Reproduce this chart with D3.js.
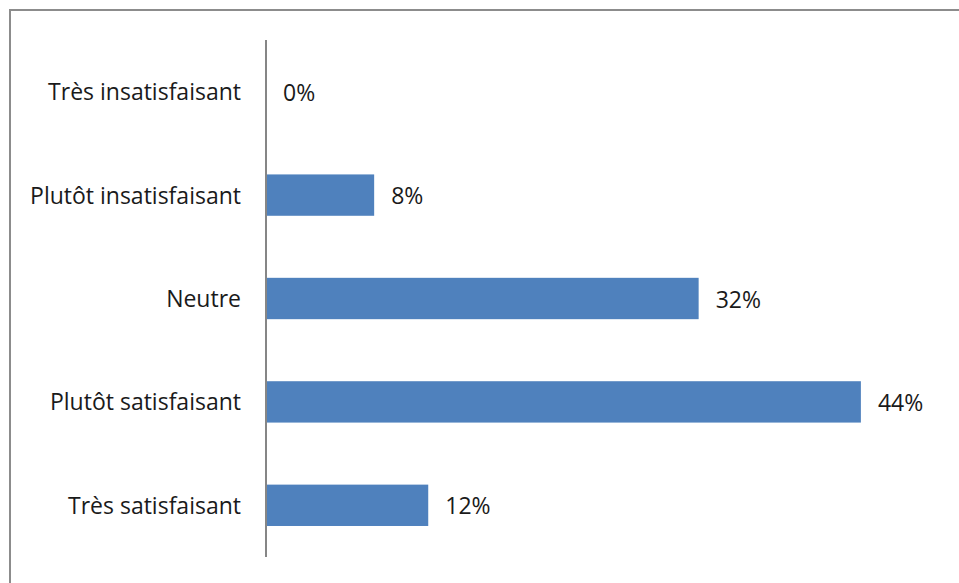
<!DOCTYPE html>
<html>
<head>
<meta charset="utf-8">
<script src="https://cdn.jsdelivr.net/npm/d3@7"></script>
<style>
  html, body { margin: 0; padding: 0; background: #fff; }
  svg { display: block; }
  text { font-family: "Open Sans", "Noto Sans", sans-serif; fill: #1a1a1a; }
</style>
</head>
<body>
<svg id="chart" width="959" height="583"></svg>
<script>
// Satisfaction survey results (share of respondents)
const categories = [
  "Très insatisfaisant",
  "Plutôt insatisfaisant",
  "Neutre",
  "Plutôt satisfaisant",
  "Très satisfaisant"
];
const values = [0.00, 0.08, 0.32, 0.44, 0.12];

const svg = d3.select("#chart");
const W = 959, H = 583;
const fontSize = 23;

// Chart frame
svg.append("rect")
  .attr("x", 10).attr("y", 10)
  .attr("width", W + 10).attr("height", H + 10)
  .attr("fill", "#fff")
  .attr("stroke", "#8c8c8c")
  .attr("stroke-width", 2);

const x = d3.scaleLinear().domain([0, 0.5]).range([266, 942]);
const y = d3.scaleBand()
  .domain(categories)
  .range([40, 557])
  .paddingInner(0.6)
  .paddingOuter(0.3);

const data = categories.map((c, i) => ({ cat: c, v: values[i] }));

// Bars
svg.append("g").selectAll("rect")
  .data(data)
  .join("rect")
  .attr("x", x(0))
  .attr("y", d => y(d.cat))
  .attr("width", d => x(d.v) - x(0))
  .attr("height", y.bandwidth())
  .attr("fill", "#4f81bd");

// Value labels
const fmt = d3.format(".0%");
svg.append("g").selectAll("text")
  .data(data)
  .join("text")
  .attr("x", d => x(d.v) + 17)
  .attr("y", d => y(d.cat) + y.bandwidth() / 2 + 1)
  .attr("dy", "0.35em")
  .attr("font-size", fontSize)
  .text(d => fmt(d.v));

// Category axis
const axis = svg.append("g")
  .attr("transform", `translate(${x(0)},0)`)
  .call(d3.axisLeft(y).tickSize(0).tickPadding(25));
axis.select(".domain")
  .attr("stroke", "#868686")
  .attr("stroke-width", 2)
  .attr("d", "M0,40V557");
axis.selectAll("text")
  .attr("font-size", fontSize)
  .attr("font-family", "\"Open Sans\", \"Noto Sans\", sans-serif")
  .attr("fill", "#1a1a1a")
  .attr("dy", "0.37em");
</script>
</body>
</html>
